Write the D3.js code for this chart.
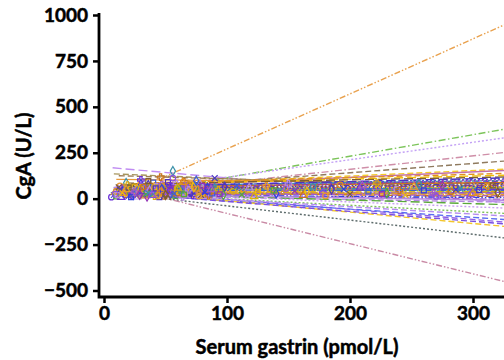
<!DOCTYPE html>
<html>
<head>
<meta charset="utf-8">
<script src="https://cdn.jsdelivr.net/npm/d3@7"></script>
<style>
  body { margin: 0; background: #fff; }
  svg { display: block; }
  text { font-family: Lato, "Open Sans", sans-serif; font-weight: bold; fill: #000; stroke: #000; stroke-width: 0.5px; }
</style>
</head>
<body>
<svg id="chart" width="504" height="360"></svg>
<script>
// ---- data ----
const xTicks = [0, 100, 200, 300];
const yTicks = [-500, -250, 0, 250, 500, 750, 1000];
const xTitle = "Serum gastrin (pmol/L)";
const yTitle = "CgA (U/L)";

// fitted lines per patient: start gastrin, start CgA, CgA at gastrin = 340
const lineEndX = 340;
const lineStartX = [47, 45, 40, 35, 30, 20, 15, 7, 8, 10, 12,
  8, 10, 12, 14, 15, 16, 18, 18, 20, 22, 22, 24, 25, 26, 28, 28, 30, 32, 33, 35, 36, 38, 40, 42, 44, 46, 48, 50, 52, 55, 58, 60,
  20, 25, 20, 30, 25, 30, 45, 15, 35];
const lineStartY = [112, 50, 60, 40, 55, 70, 60, 168, 135, 105, 125,
  60, 45, 30, 75, 20, 50, 35, 65, 25, 80, 40, 55, 15, 70, 30, 45, 60, 20, 85, 50, 35, 25, 65, 45, 30, 55, 40, 70, 20, 50, 35, 60,
  30, 25, 40, 20, 35, 15, 10, 30, 20];
const lineEndY = [990, 395, 345, 262, 212, 165, 158, -30, 40, 80, 60,
  95, 70, 55, 130, 35, 40, 10, 110, -5, 120, 60, 85, -20, 100, 25, 75, 50, 5, 140, 65, 30, -35, 90, 45, 15, 78, 20, 115, -10, 58, 38, 105,
  -55, -85, -135, -120, -160, -225, -475, -100, -145];

// individual measurements [gastrin, CgA]
const points = [
  [6,8],[8,20],[9,35],[10,12],[11,55],[12,28],[13,70],[14,18],[15,42],[16,60],[17,25],[18,85],[19,38],[20,15],
  [21,50],[22,72],[23,30],[24,22],[25,65],[26,45],[27,10],[28,58],[29,33],[30,80],[31,27],[32,48],[33,16],[34,62],
  [35,40],[36,75],[37,20],[38,52],[39,35],[40,88],[41,14],[42,44],[43,68],[44,30],[45,56],[46,24],[47,78],[48,40],
  [49,12],[50,62],[51,34],[52,90],[53,48],[54,22],[55,70],[56,38],[57,55],[58,15],[59,82],[60,44],[61,30],[62,65],
  [63,20],[64,50],[65,92],[66,36],[67,58],[68,26],[69,74],[70,42],[72,18],[74,66],[75,32],[77,54],[78,80],[80,28],
  [82,46],[84,60],[86,22],[88,70],[90,40],[92,52],[95,34],[98,64],
  [10,40],[12,62],[14,8],[17,52],[19,74],[21,30],[24,44],[26,18],[28,66],[31,40],[33,54],[35,12],[38,70],[40,26],
  [43,50],[45,8],[48,64],[50,30],[53,74],[56,18],[58,46],[61,56],[64,10],[67,40],[70,62],[73,30],[76,48],[80,70],
  [85,16],[90,58],
  [9,25],[13,48],[16,30],[20,60],[23,14],[27,38],[30,55],[34,26],[37,46],[41,60],[44,18],[47,52],[52,36],[55,60],
  [59,28],[63,44],[66,70],[71,34],[75,56],[79,20],[83,40],[88,28],[93,48],[97,20],
  [11,20],[15,32],[18,50],[22,8],[25,36],[29,22],[32,64],[36,30],[39,18],[42,56],[46,40],[50,20],[54,46],[57,28],
  [60,58],[65,24],[69,48],[73,62],[77,14],[82,36],[87,50],[94,24],
  [46,117],[56,150],[56,112],[90,112],[64,90],[36,96],[30,102],[75,98],
  [105,40],[112,22],[118,60],[125,35],[132,70],[140,28],[148,55],[155,42],[162,18],[170,66],[178,32],[185,50],
  [192,75],[200,24],[208,58],[215,40],[222,85],[230,30],[238,52],[245,20],[252,64],[260,45],[268,28],[275,72],
  [282,38],[290,56],[298,22],[305,48],[312,66],[320,34],[328,54],
  [108,70],[122,12],[138,45],[150,80],[165,38],[180,15],[195,52],[210,70],[226,25],[240,44],[256,80],[270,12],
  [286,50],[300,30],[316,72],[330,18]
];

// ---- styles ----
const lineColors = ["#e9a24f", "#7cc45a", "#c3a1f5", "#cf8fa8", "#8f7a5e", "#f5cb2a", "#c36fa8", "#c08cf2", "#a6955c", "#e89a3c", "#9c7b55"];
const lowColors = ["#c9a0f0", "#7fc15a", "#8e5fe8", "#5a6ef0", "#f3c62c", "#5d6b6b", "#c98aa5", "#b48cf0", "#7b4fe0"];
const clusterColors = ["#6a2fd8", "#2f3fe0", "#e0901f", "#efbe0a", "#8a4fe0", "#5aa83a", "#c8741f", "#3d5fd8",
  "#a25ac8", "#7e5d30", "#e89a30", "#4a35c0", "#b58ae0", "#3a90a8", "#dcae10", "#9232b5"];
const DD = "6,2,1.5,2,1.5,2", DASHDOT = "7,2.5,1.5,2.5", DOT = "2,2", DASH = "6,3", LONG = "9,4";
const lineDashes = [DD, DASHDOT, DOT, DASHDOT, DASH, DASH, null, LONG, DASH, null, DASH];
const lowDashes = [DOT, DOT, DASH, DASH, DASH, DOT, DD, DASH, DASH];
const clusterDashes = [DASH, DOT, DASHDOT, LONG, null, DD];

const nTop = lineColors.length;
const nLow = lowColors.length;
const nAll = lineStartX.length;

function colorOf(i) {
  if (i < nTop) return lineColors[i];
  if (i >= nAll - nLow) return lowColors[i - (nAll - nLow)];
  return clusterColors[(i - nTop) % clusterColors.length];
}
function dashOf(i) {
  if (i < nTop) return lineDashes[i];
  if (i >= nAll - nLow) return lowDashes[i - (nAll - nLow)];
  return clusterDashes[(i - nTop) % clusterDashes.length];
}

// ---- chart ----
const svg = d3.select("#chart");
const axisX = 99, axisY = 297;

const x = d3.scaleLinear().domain([0, 330]).range([104, 104 + 330 * 1.23]);
const y = d3.scaleLinear().domain([-500, 1000]).range([290.5, 15]);

// regression lines
svg.append("g")
  .selectAll("line")
  .data(d3.range(nAll))
  .join("line")
  .attr("x1", i => x(lineStartX[i]))
  .attr("y1", i => y(lineStartY[i]))
  .attr("x2", x(lineEndX))
  .attr("y2", i => y(lineEndY[i]))
  .attr("stroke", i => colorOf(i))
  .attr("stroke-width", 1.4)
  .attr("stroke-dasharray", i => dashOf(i));

// points
const symbols = [d3.symbolCircle, d3.symbolX, d3.symbolTriangle, d3.symbolSquare, d3.symbolCross, d3.symbolDiamond];
svg.append("g")
  .selectAll("path")
  .data(points)
  .join("path")
  .attr("transform", d => "translate(" + x(d[0]) + "," + y(d[1]) + ")")
  .attr("d", (d, i) => d3.symbol().type(symbols[i % symbols.length]).size(24)())
  .attr("fill", "none")
  .attr("stroke", (d, i) => clusterColors[(i * 7) % clusterColors.length])
  .attr("stroke-width", 1.2);

// axes
const xAxis = svg.append("g")
  .attr("transform", "translate(0," + axisY + ")")
  .call(d3.axisBottom(x).tickValues(xTicks).tickSize(6).tickPadding(4).tickSizeOuter(0));
const yAxis = svg.append("g")
  .attr("transform", "translate(" + axisX + ",0)")
  .call(d3.axisLeft(y).tickValues(yTicks).tickSize(6).tickPadding(5).tickSizeOuter(0)
    .tickFormat(d => d < 0 ? "\u2212" + Math.abs(d) : d));

[xAxis, yAxis].forEach(g => {
  g.select(".domain").remove();
  g.selectAll(".tick line").attr("stroke", "#000").attr("stroke-width", 2.5);
  g.selectAll(".tick text").style("font-size", "19px");
});

svg.append("path")
  .attr("d", "M" + axisX + ",13V" + axisY + "H504")
  .attr("fill", "none")
  .attr("stroke", "#000")
  .attr("stroke-width", 2.8);

svg.append("text")
  .attr("x", 297)
  .attr("y", 354)
  .attr("text-anchor", "middle")
  .style("font-size", "20px")
  .text(xTitle);

svg.append("text")
  .attr("transform", "translate(31,156) rotate(-90)")
  .attr("text-anchor", "middle")
  .style("font-size", "20px")
  .text(yTitle);
</script>
</body>
</html>
